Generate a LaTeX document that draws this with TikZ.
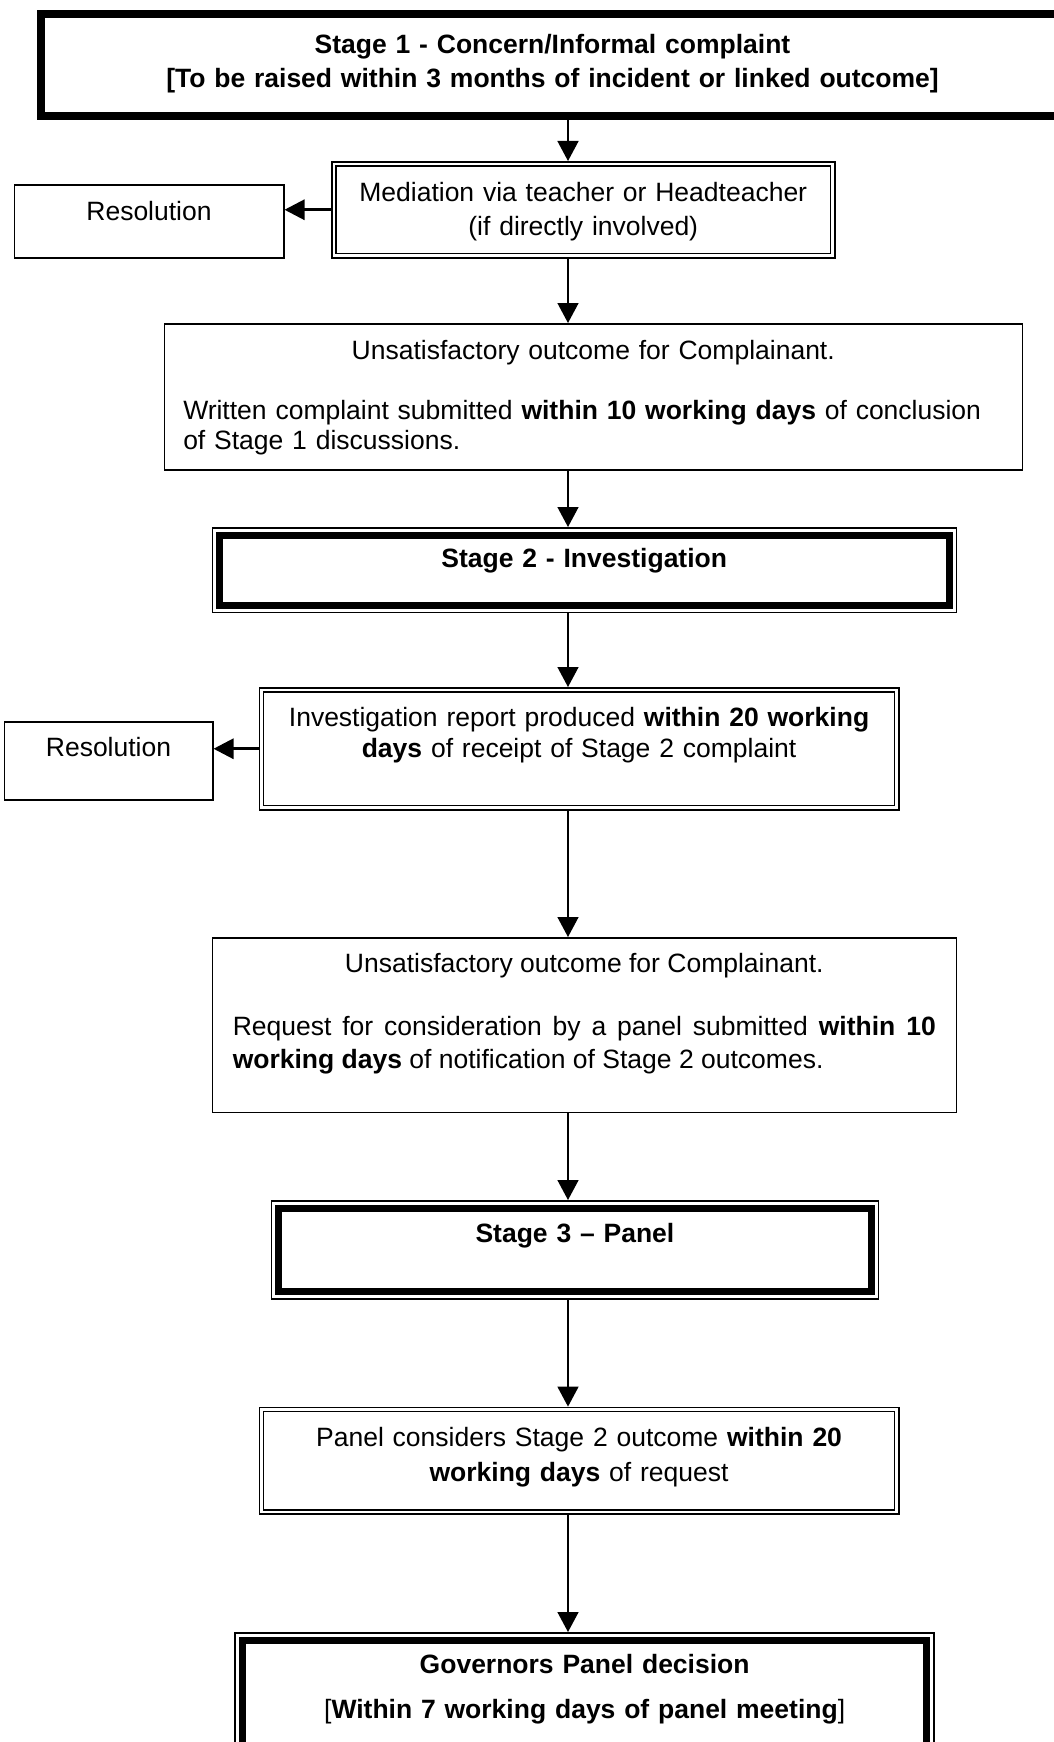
\documentclass[tikz,border=0pt]{standalone}
\usepackage{fontspec}
\setmainfont{Liberation Sans}
\usetikzlibrary{arrows.meta}

\begin{document}
\begin{tikzpicture}[x=1pt,y=-1pt,
    box/.style={draw,line width=1.5pt,inner sep=0pt,anchor=north west,
      font=\fontsize{26.5}{34}\selectfont},
    flow/.style={line width=1.5pt,-{Triangle[length=20pt,width=21pt]}},
    side/.style={line width=3pt,-{Triangle[length=20pt,width=20pt]}},
    thin frame/.style={line width=1.5pt},
    heavy frame/.style={line width=7pt}]
    \useasboundingbox (0,0) rectangle (1053,1742);
    \coordinate (spine) at (568,0);
    \node[box,line width=7pt,minimum width=1025pt,text width=1000pt,align=center,
      text height=39.5pt,text depth=63pt] (stageone) at (36.5,10.5)
      {\textbf{Stage 1 - Concern/Informal complaint}\\
       \textbf{[To be raised within 3 months of incident or linked outcome]}};
    \node[box,minimum width=503pt,text width=480pt,align=center,
      text height=40pt,text depth=56pt] (med) at (331,161)
      {Mediation via teacher or Headteacher\\(if directly involved)};
    \node[box,minimum width=269.5pt,text width=250pt,align=center,
      text height=36pt,text depth=37pt] (resone) at (13.5,184) {Resolution};
    \node[box,minimum width=858pt,text width=820pt,
      text height=36pt,text depth=110pt,font=\fontsize{26.5}{30}\selectfont] (unone) at (163.5,323)
      {{\centering Unsatisfactory outcome for Complainant.\par}\vspace{30pt}%
       \raggedright Written complaint submitted \textbf{within 10 working days} of conclusion\\
       of Stage 1 discussions.};
    \node[box,minimum width=744pt,text width=700pt,align=center,
      text height=39.7pt,text depth=44.8pt] (stagetwo) at (211.5,527)
      {\textbf{Stage 2 - Investigation}};
    \node[box,minimum width=639.4pt,text width=610pt,align=center,
      text height=39pt,text depth=83pt,font=\fontsize{26.5}{31}\selectfont] (inv) at (258.6,687)
      {Investigation report produced \textbf{within 20 working}\\
       \textbf{days} of receipt of Stage 2 complaint};
    \node[box,minimum width=208.5pt,text width=190pt,align=center,
      text height=35pt,text depth=43pt] (restwo) at (3.5,721) {Resolution};
    \node[box,minimum width=744pt,text width=703pt,align=justify,
      text height=34.7pt,text depth=139.8pt,font=\fontsize{26.5}{33}\selectfont] (untwo) at (211.5,937)
      {{\centering Unsatisfactory outcome for Complainant.\par}\vspace{30pt}%
       Request for consideration by a panel submitted \textbf{within 10}\linebreak
       \textbf{working days} of notification of Stage 2 outcomes.};
    \node[box,minimum width=607.2pt,text width=580pt,align=center,
      text height=41.7pt,text depth=56.3pt] (stagethree) at (270.6,1200)
      {\textbf{Stage 3 – Panel}};
    \node[box,minimum width=639.4pt,text width=610pt,align=center,
      text height=39.4pt,text depth=67.4pt,font=\fontsize{26.5}{35}\selectfont] (panel) at (258.6,1406.6)
      {Panel considers Stage 2 outcome \textbf{within 20}\\
       \textbf{working days} of request};
    \node[box,minimum width=699pt,text width=670pt,align=center,
      text height=40.6pt,text depth=87.4pt,font=\fontsize{26.5}{45}\selectfont] (decision) at (234.4,1632)
      {\textbf{Governors Panel decision}\\
       {[}\textbf{Within 7 working days of panel meeting}]};
    \draw[line width=2pt] ([shift={(7,7)}]stageone.north west) rectangle ([shift={(-7,-7)}]stageone.south east);
    \draw[thin frame] ([shift={(5,5)}]med.north west) rectangle ([shift={(-5,-5)}]med.south east);
    \draw[thin frame] ([shift={(5,5)}]inv.north west) rectangle ([shift={(-5,-5)}]inv.south east);
    \draw[thin frame] ([shift={(5,5)}]panel.north west) rectangle ([shift={(-5,-5)}]panel.south east);
    \draw[heavy frame] ([shift={(8,8)}]stagetwo.north west) rectangle ([shift={(-8,-8)}]stagetwo.south east);
    \draw[heavy frame] ([shift={(8,8)}]stagethree.north west) rectangle ([shift={(-8,-8)}]stagethree.south east);
    \draw[heavy frame] ([shift={(8,8)}]decision.north west) rectangle ([shift={(-8,-8)}]decision.south east);
    \draw[flow] (stageone.south -| spine) -- (med.north -| spine);
    \draw[side] (med.west) -- (med.west -| resone.east);
    \draw[flow] (med.south -| spine) -- (unone.north -| spine);
    \draw[flow] (unone.south -| spine) -- (stagetwo.north -| spine);
    \draw[flow] (stagetwo.south -| spine) -- (inv.north -| spine);
    \draw[side] (inv.west) -- (inv.west -| restwo.east);
    \draw[flow] (inv.south -| spine) -- (untwo.north -| spine);
    \draw[flow] (untwo.south -| spine) -- (stagethree.north -| spine);
    \draw[flow] (stagethree.south -| spine) -- (panel.north -| spine);
    \draw[flow] (panel.south -| spine) -- (decision.north -| spine);
\end{tikzpicture}
\end{document}
